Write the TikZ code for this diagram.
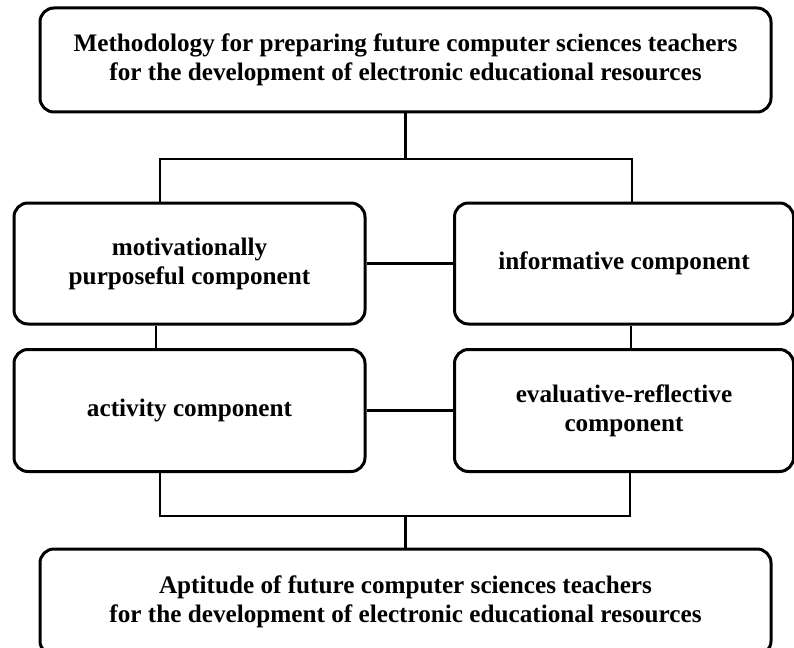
\documentclass[tikz,border=0pt]{standalone}
\usepackage{fontspec}
\setmainfont{Liberation Serif}

\begin{document}
\begin{tikzpicture}[x=1pt,y=-1pt,
	block/.style={draw,line width=3pt,rounded corners=14pt,align=center,
		font=\fontsize{25.2}{29}\selectfont\bfseries},
	link/.style={line width=2.4pt}]
\clip (0,0) rectangle (794,647);
\fill[white] (0,0) rectangle (794,647);

\node[block,minimum width=731pt,minimum height=104pt] (method) at (405.5,60)
	{Methodology for preparing future computer sciences teachers\\for the development of electronic educational resources};
\node[block,minimum width=351pt,minimum height=121pt] (motiv) at (189.5,263.5)
	{motivationally\\purposeful component};
\node[block,minimum width=339pt,minimum height=121pt] (inform) at (624,263.5)
	{informative component};
\node[block,minimum width=351pt,minimum height=122pt] (activ) at (189.5,410.5)
	{activity component};
\node[block,minimum width=339pt,minimum height=122pt] (evalu) at (624,410.5)
	{evaluative-reflective\\component};
\node[block,minimum width=731pt,minimum height=106pt] (aptit) at (405.5,602)
	{Aptitude of future computer sciences teachers\\for the development of electronic educational resources};

% upper branching
\coordinate (jl) at (160,159);
\coordinate (jr) at (632,159);
\draw[link] (method.south) -- (method.south |- jl);
\draw[link] (jl |- motiv.north) -- (jl) -- (jr) -- (jr |- inform.north);

% links between components
\draw[link] (motiv.east) -- (inform.west);
\draw[link] (activ.east) -- (evalu.west);
\draw[link] ([xshift=-4pt]jl |- motiv.south) -- ([xshift=-4pt]jl |- activ.north);
\draw[link] ([xshift=-1pt]jr |- inform.south) -- ([xshift=-1pt]jr |- evalu.north);

% lower branching
\coordinate (kl) at (160,516);
\coordinate (kr) at (630,516);
\draw[link] (kl |- activ.south) -- (kl) -- (kr) -- (kr |- evalu.south);
\draw[link] (aptit.north |- kl) -- (aptit.north);
\end{tikzpicture}
\end{document}
